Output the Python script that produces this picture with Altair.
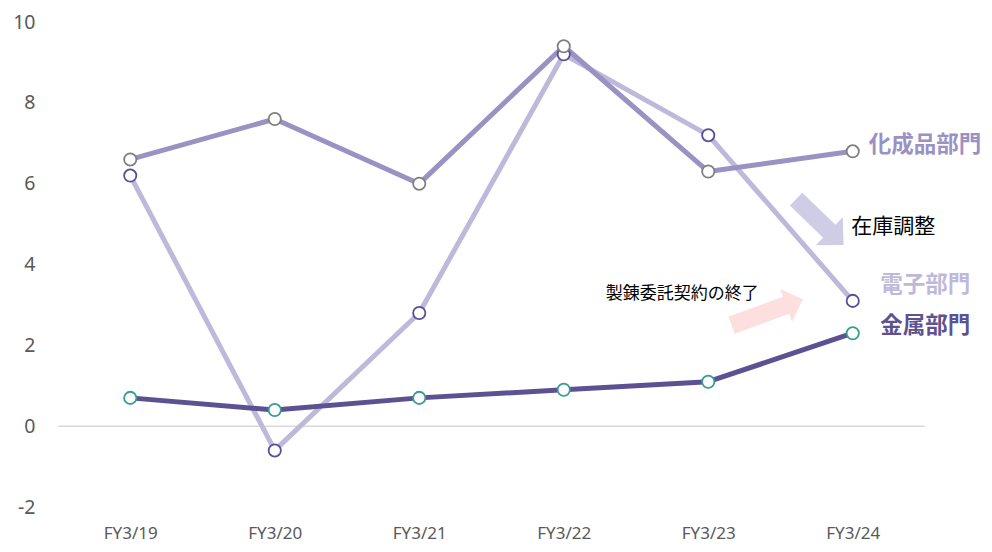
import altair as alt
import pandas as pd

categories = ["FY3/19", "FY3/20", "FY3/21", "FY3/22", "FY3/23", "FY3/24"]
series_names = ["化成品部門", "電子部門", "金属部門"]
chem = [6.6, 7.6, 6.0, 9.4, 6.3, 6.8]
elec = [6.2, -0.6, 2.8, 9.2, 7.2, 3.1]
metal = [0.7, 0.4, 0.7, 0.9, 1.1, 2.3]
y_ticks = [-2, 0, 2, 4, 6, 8, 10]

line_colors = ["#9A92C3", "#BEB9DA", "#5D5191"]
marker_colors = ["#808080", "#5B4E96", "#3A9B92"]

# series end labels (data coordinates)
label_x = [5.11, 5.19, 5.19]
label_y = [6.96, 3.49, 2.48]

# annotations
note_texts = ["在庫調整", "製錬委託契約の終了"]
note_x = [4.99, 3.29]
note_y = [4.93, 3.27]
note_sizes = [21, 17]

arrow_x = [4.772, 4.408]
arrow_y = [5.05, 2.82]
arrow_angle = [44, 340]
arrow_size = [4356, 5760]
arrow_colors = ["#CFCCE6", "#FDDFE0"]
arrow_shapes = [
    "M-1,-0.27L0.4,-0.27L0.4,-0.59L1,0L0.4,0.59L0.4,0.27L-1,0.27Z",
    "M-1,-0.24L0.53,-0.24L0.53,-0.46L1,0L0.53,0.46L0.53,0.24L-1,0.24Z",
]

FONT = "Noto Sans"
CJK = "Noto Sans CJK JP"

x_scale = alt.Scale(domain=[-0.5, 5.5], nice=False, zero=False)
y_scale = alt.Scale(domain=[-2, 10], nice=False, zero=False)

label_expr = "[" + ",".join(f"'{c}'" for c in categories) + "][datum.value]"

x_axis = alt.Axis(values=list(range(6)), labelExpr=label_expr, domain=False, ticks=False,
                  grid=False, title=None, labelFont=FONT, labelFontSize=17,
                  labelColor="#595959", labelPadding=18)
y_axis = alt.Axis(values=y_ticks, labelExpr="'' + datum.value", domain=False, ticks=False, grid=False,
                  title=None, labelFont=FONT, labelFontSize=19.5, labelColor="#595959",
                  labelPadding=23)

idx = list(range(6))
series_vals = [chem, elec, metal]

layers = []

zero_df = pd.DataFrame({"y": [0]})
zero = alt.Chart(zero_df).mark_rule(color="#D9D9D9", strokeWidth=1.5).encode(
    y=alt.Y("y:Q", scale=y_scale, axis=y_axis)
)
layers.append(zero)

# arrows
arr_df = pd.DataFrame({"x": arrow_x, "y": arrow_y})
for i in range(2):
    a = alt.Chart(arr_df.iloc[[i]]).mark_point(
        shape=arrow_shapes[i], filled=True, color=arrow_colors[i], opacity=1,
        size=arrow_size[i], angle=arrow_angle[i], strokeWidth=0
    ).encode(x=alt.X("x:Q", scale=x_scale, axis=x_axis), y=alt.Y("y:Q", scale=y_scale, axis=y_axis))
    layers.append(a)

line_order = [1, 0, 2]
for i in line_order:
    df = pd.DataFrame({"x": idx, "y": series_vals[i]})
    ln = alt.Chart(df).mark_line(color=line_colors[i], strokeWidth=5, strokeJoin="round").encode(
        x=alt.X("x:Q", scale=x_scale, axis=x_axis), y=alt.Y("y:Q", scale=y_scale, axis=y_axis)
    )
    layers.append(ln)

for i in line_order:
    df = pd.DataFrame({"x": idx, "y": series_vals[i]})
    pt = alt.Chart(df).mark_point(shape="circle", filled=True, fill="white", stroke=marker_colors[i],
                                  strokeWidth=1.8, size=150, opacity=1).encode(
        x=alt.X("x:Q", scale=x_scale, axis=x_axis), y=alt.Y("y:Q", scale=y_scale, axis=y_axis)
    )
    layers.append(pt)

for i in range(3):
    df = pd.DataFrame({"x": [label_x[i]], "y": [label_y[i]], "t": [series_names[i]]})
    tx = alt.Chart(df).mark_text(align="left", baseline="middle", font=CJK, fontSize=22.5,
                                 fontWeight="bold", color=line_colors[i]).encode(
        x=alt.X("x:Q", scale=x_scale, axis=x_axis), y=alt.Y("y:Q", scale=y_scale, axis=y_axis),
        text="t:N"
    )
    layers.append(tx)

for i in range(2):
    df = pd.DataFrame({"x": [note_x[i]], "y": [note_y[i]], "t": [note_texts[i]]})
    tx = alt.Chart(df).mark_text(align="left", baseline="middle", font=CJK, fontSize=note_sizes[i],
                                 color="#000000").encode(
        x=alt.X("x:Q", scale=x_scale, axis=x_axis), y=alt.Y("y:Q", scale=y_scale, axis=y_axis),
        text="t:N"
    )
    layers.append(tx)

chart = alt.layer(*layers).properties(
    width=867, height=485,
    background="white",
    autosize=alt.AutoSizeParams(type="none"),
    padding={"left": 50, "top": 14, "right": 59, "bottom": 37},
).configure_view(strokeWidth=0, stroke=None)

chart.save("out.html", embed_options={"renderer": "svg", "actions": False})
